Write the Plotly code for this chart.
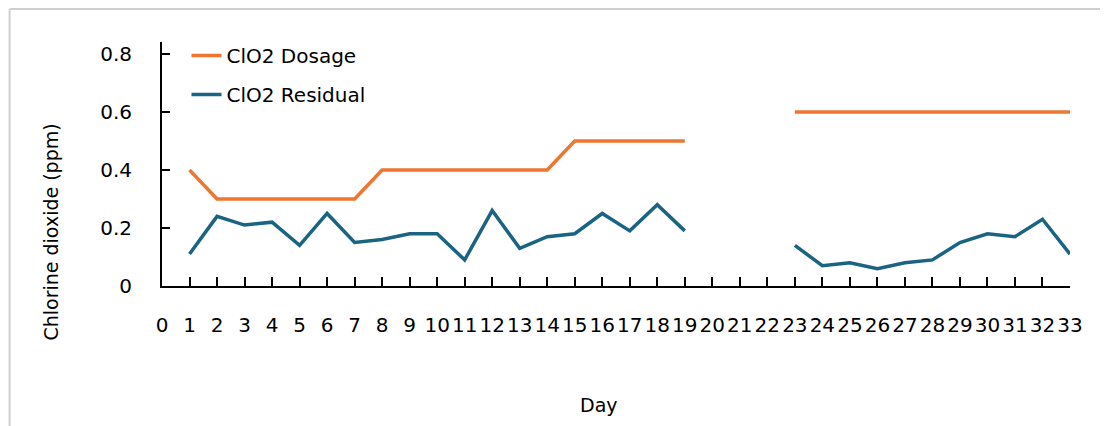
import plotly.graph_objects as go

days = list(range(1, 34))
dosage = [0.4, 0.3, 0.3, 0.3, 0.3, 0.3, 0.3, 0.4, 0.4, 0.4, 0.4, 0.4, 0.4, 0.4,
          0.5, 0.5, 0.5, 0.5, 0.5, None, None, None,
          0.6, 0.6, 0.6, 0.6, 0.6, 0.6, 0.6, 0.6, 0.6, 0.6, 0.6]
residual = [0.11, 0.24, 0.21, 0.22, 0.14, 0.25, 0.15, 0.16, 0.18, 0.18, 0.09, 0.26,
            0.13, 0.17, 0.18, 0.25, 0.19, 0.28, 0.19, None, None, None,
            0.14, 0.07, 0.08, 0.06, 0.08, 0.09, 0.15, 0.18, 0.17, 0.23, 0.11]
x_ticks = list(range(0, 34))
y_ticks = [0, 0.2, 0.4, 0.6, 0.8]
y_tick_labels = ["0", "0.2", "0.4", "0.6", "0.8"]

FONT = "DejaVu Sans, Verdana, sans-serif"
ORANGE = "#ED7631"
BLUE = "#1B6383"

OFF = 8  # page body margin
W, H = 1108 - OFF, 426 - OFF
# reference pixel geometry (window coords)
AX_L, AX_R, AX_T, AX_B = 161.5, 1070, 42, 286
L, R, T, B = AX_L - OFF, 1108 - AX_R, AX_T - OFF, 426 - AX_B
pw, ph = AX_R - AX_L, AX_B - AX_T

fig = go.Figure()
fig.add_trace(go.Scatter(x=days, y=dosage, mode="lines", name="ClO2 Dosage",
                         line=dict(color=ORANGE, width=3.5), connectgaps=False,
                         legendgroup="a"))
fig.add_trace(go.Scatter(x=days, y=residual, mode="lines", name="ClO2 Residual",
                         line=dict(color=BLUE, width=3.5), connectgaps=False,
                         legendgroup="b"))

def px_x(p):
    return (p - AX_L) / pw

def px_y(p):
    return (AX_B - p) / ph

fig.update_layout(
    width=W, height=H,
    margin=dict(l=L, r=R, t=T, b=B),
    paper_bgcolor="white", plot_bgcolor="white",
    font=dict(family=FONT, size=20, color="black"),
    showlegend=True,
    legend=dict(x=px_x(186), y=px_y(36), xanchor="left", yanchor="top",
                bgcolor="rgba(0,0,0,0)", traceorder="grouped", tracegroupgap=10,
                font=dict(size=20)),
    xaxis=dict(range=[0, 33], tickmode="array", tickvals=x_ticks,
               ticktext=[str(v) for v in x_ticks],
               showgrid=False, zeroline=False, showline=True, linecolor="black",
               linewidth=2, ticks="inside", ticklen=9, tickwidth=1.5,
               tickcolor="black", ticklabelstandoff=20),
    yaxis=dict(range=[0, 0.841], tickmode="array", tickvals=y_ticks,
               ticktext=y_tick_labels, showgrid=False, zeroline=False,
               showline=True, linecolor="black", linewidth=2, ticks="inside",
               ticklen=8, tickwidth=1.5, tickcolor="black", ticklabelstandoff=24),
    annotations=[
        dict(text="Chlorine dioxide (ppm)", xref="paper", yref="paper",
             x=px_x(50), y=px_y(232), textangle=-90, showarrow=False,
             font=dict(size=19), xanchor="center", yanchor="middle"),
        dict(text="Day", xref="paper", yref="paper", x=px_x(599), y=px_y(405),
             showarrow=False, font=dict(size=19), xanchor="center", yanchor="middle"),
    ],
    shapes=[
        dict(type="line", xref="paper", yref="paper", x0=px_x(9), x1=px_x(9),
             y0=px_y(9), y1=px_y(426), line=dict(color="#d0d0d0", width=2)),
        dict(type="line", xref="paper", yref="paper", x0=px_x(9), x1=px_x(1108),
             y0=px_y(9), y1=px_y(9), line=dict(color="#d0d0d0", width=2)),
    ],
)

fig.write_html("out.html")
